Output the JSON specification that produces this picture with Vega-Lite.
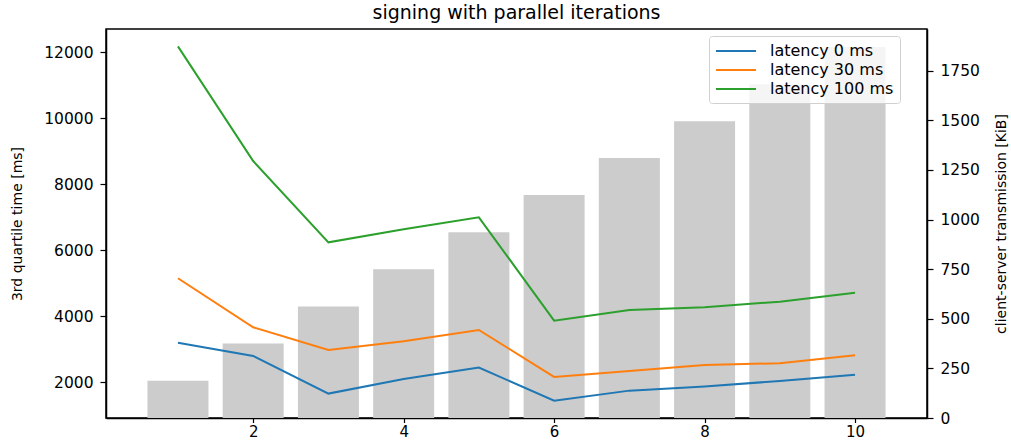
{
  "$schema": "https://vega.github.io/schema/vega-lite/v6.json",
  "width": 821,
  "height": 389,
  "autosize": {"type": "none"},
  "padding": {"left": 106, "top": 29, "right": 84, "bottom": 22},
  "background": "white",
  "title": {
    "text": "signing with parallel iterations",
    "font": "DejaVu Sans",
    "fontSize": 19,
    "fontWeight": "normal",
    "color": "black",
    "anchor": "middle",
    "baseline": "bottom",
    "offset": 4,
    "dy": 17
  },
  "datasets": {
    "transmission": [
      {"parallel": 1, "kib": 188},
      {"parallel": 2, "kib": 375},
      {"parallel": 3, "kib": 562},
      {"parallel": 4, "kib": 750},
      {"parallel": 5, "kib": 936},
      {"parallel": 6, "kib": 1123},
      {"parallel": 7, "kib": 1310},
      {"parallel": 8, "kib": 1495},
      {"parallel": 9, "kib": 1682},
      {"parallel": 10, "kib": 1869}
    ],
    "timing": [
      {"parallel": 1, "series": "latency 0 ms", "ms": 3200},
      {"parallel": 2, "series": "latency 0 ms", "ms": 2797},
      {"parallel": 3, "series": "latency 0 ms", "ms": 1655},
      {"parallel": 4, "series": "latency 0 ms", "ms": 2100},
      {"parallel": 5, "series": "latency 0 ms", "ms": 2444},
      {"parallel": 6, "series": "latency 0 ms", "ms": 1442},
      {"parallel": 7, "series": "latency 0 ms", "ms": 1745},
      {"parallel": 8, "series": "latency 0 ms", "ms": 1867},
      {"parallel": 9, "series": "latency 0 ms", "ms": 2039},
      {"parallel": 10, "series": "latency 0 ms", "ms": 2230},
      {"parallel": 1, "series": "latency 30 ms", "ms": 5152},
      {"parallel": 2, "series": "latency 30 ms", "ms": 3667},
      {"parallel": 3, "series": "latency 30 ms", "ms": 2979},
      {"parallel": 4, "series": "latency 30 ms", "ms": 3242},
      {"parallel": 5, "series": "latency 30 ms", "ms": 3585},
      {"parallel": 6, "series": "latency 30 ms", "ms": 2161},
      {"parallel": 7, "series": "latency 30 ms", "ms": 2342},
      {"parallel": 8, "series": "latency 30 ms", "ms": 2524},
      {"parallel": 9, "series": "latency 30 ms", "ms": 2576},
      {"parallel": 10, "series": "latency 30 ms", "ms": 2818},
      {"parallel": 1, "series": "latency 100 ms", "ms": 12182},
      {"parallel": 2, "series": "latency 100 ms", "ms": 8706},
      {"parallel": 3, "series": "latency 100 ms", "ms": 6242},
      {"parallel": 4, "series": "latency 100 ms", "ms": 6636},
      {"parallel": 5, "series": "latency 100 ms", "ms": 7000},
      {"parallel": 6, "series": "latency 100 ms", "ms": 3867},
      {"parallel": 7, "series": "latency 100 ms", "ms": 4191},
      {"parallel": 8, "series": "latency 100 ms", "ms": 4273},
      {"parallel": 9, "series": "latency 100 ms", "ms": 4442},
      {"parallel": 10, "series": "latency 100 ms", "ms": 4715}
    ]
  },
  "config": {
    "font": "DejaVu Sans",
    "view": {"stroke": "black", "strokeWidth": 1.5},
    "axis": {
      "grid": false,
      "domainColor": "black",
      "domainWidth": 1.5,
      "tickColor": "black",
      "tickWidth": 1.2,
      "tickSize": 6,
      "labelColor": "black",
      "labelFont": "DejaVu Sans",
      "labelFontSize": 15.5,
      "labelPadding": 7,
      "titleFont": "DejaVu Sans",
      "titleFontSize": 14,
      "titleFontWeight": "normal",
      "titleColor": "black"
    },
    "legend": {
      "fillColor": "rgba(255,255,255,0.8)",
      "strokeColor": "#d0d0d0",
      "cornerRadius": 3,
      "padding": 6,
      "labelFont": "DejaVu Sans",
      "labelFontSize": 16,
      "labelColor": "black",
      "symbolType": "M-1,0H4",
      "symbolSize": 256,
      "symbolStrokeWidth": 2,
      "labelOffset": 37,
      "rowPadding": 2
    }
  },
  "layer": [
    {
      "data": {"name": "transmission"},
      "mark": {"type": "bar", "color": "#cccccc", "width": 61, "orient": "vertical"},
      "encoding": {
        "x": {
          "field": "parallel",
          "type": "quantitative",
          "scale": {"domain": [0.11, 10.89], "nice": false, "zero": false},
          "axis": {"values": [2, 4, 6, 8, 10], "format": "d", "title": null, "tickSize": 4.5, "labelPadding": 2, "labelFontSize": 15}
        },
        "y": {
          "field": "kib",
          "type": "quantitative",
          "scale": {"domain": [0, 1960], "nice": false},
          "axis": {
            "orient": "right",
            "values": [0, 250, 500, 750, 1000, 1250, 1500, 1750],
            "format": "d",
            "title": "client-server transmission [KiB]",
            "titleAngle": 270,
            "titleX": 74,
            "titleY": 194.5,
            "titleBaseline": "middle",
            "titleAlign": "center"
          }
        }
      }
    },
    {
      "data": {"name": "timing"},
      "mark": {"type": "line", "strokeWidth": 2},
      "encoding": {
        "x": {
          "field": "parallel",
          "type": "quantitative",
          "scale": {"domain": [0.11, 10.89], "nice": false, "zero": false}
        },
        "y": {
          "field": "ms",
          "type": "quantitative",
          "scale": {"domain": [915, 12710], "nice": false, "zero": false},
          "axis": {
            "orient": "left",
            "values": [2000, 4000, 6000, 8000, 10000, 12000],
            "format": "d",
            "title": "3rd quartile time [ms]",
            "titleAngle": 270,
            "titleX": -89,
            "titleY": 194.5,
            "titleBaseline": "middle",
            "titleAlign": "center"
          }
        },
        "color": {
          "field": "series",
          "type": "nominal",
          "scale": {
            "domain": ["latency 0 ms", "latency 30 ms", "latency 100 ms"],
            "range": ["#1f77b4", "#ff7f0e", "#2ca02c"]
          },
          "legend": {"title": null, "orient": "none", "legendX": 603, "legendY": 7}
        }
      }
    }
  ],
  "resolve": {"scale": {"y": "independent"}}
}
